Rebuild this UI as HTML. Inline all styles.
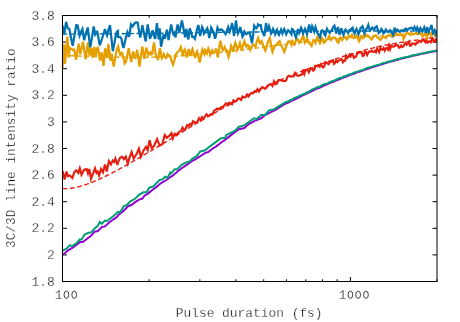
<!DOCTYPE html>
<html><head><meta charset="utf-8"><title>plot</title>
<style>html,body{margin:0;padding:0;background:#fff;width:460px;height:322px;overflow:hidden}</style></head>
<body>
<svg width="460" height="322" viewBox="0 0 460 322" style="position:absolute;left:0;top:0">
<rect width="460" height="322" fill="#fff"/>
<path d="M62.5,281.50h4.5 M437.0,281.50h-4.5 M62.5,254.90h4.5 M437.0,254.90h-4.5 M62.5,228.30h4.5 M437.0,228.30h-4.5 M62.5,201.70h4.5 M437.0,201.70h-4.5 M62.5,175.10h4.5 M437.0,175.10h-4.5 M62.5,148.50h4.5 M437.0,148.50h-4.5 M62.5,121.90h4.5 M437.0,121.90h-4.5 M62.5,95.30h4.5 M437.0,95.30h-4.5 M62.5,68.70h4.5 M437.0,68.70h-4.5 M62.5,42.10h4.5 M437.0,42.10h-4.5 M62.5,15.50h4.5 M437.0,15.50h-4.5 M62.50,281.5v-4.5 M62.50,15.5v4.5 M350.35,281.5v-4.5 M350.35,15.5v4.5 M149.15,281.5v-2.25 M149.15,15.5v2.25 M199.84,281.5v-2.25 M199.84,15.5v2.25 M235.80,281.5v-2.25 M235.80,15.5v2.25 M263.70,281.5v-2.25 M263.70,15.5v2.25 M286.49,281.5v-2.25 M286.49,15.5v2.25 M305.76,281.5v-2.25 M305.76,15.5v2.25 M322.45,281.5v-2.25 M322.45,15.5v2.25 M337.18,281.5v-2.25 M337.18,15.5v2.25 M437.00,281.5v-2.25 M437.00,15.5v2.25" stroke="#000" stroke-width="1" fill="none"/>
<clipPath id="c"><rect x="61.5" y="15.5" width="375.5" height="266.0"/></clipPath>
<g clip-path="url(#c)" fill="none" stroke-width="2" stroke-linejoin="miter" stroke-miterlimit="3.8" stroke-linecap="butt">
<path d="M62.6,255.1 L67.8,250.6 L73.0,247.3 L78.3,243.4 L80.2,242.1 L82.8,242.1 L86.1,239.5 L91.3,235.6 L94.6,231.7 L97.8,231.0 L101.7,227.1 L105.0,226.4 L108.3,223.2 L113.5,219.3 L117.4,216.7 L118.0,215.1 L123.2,211.2 L128.4,206.0 L131.0,205.3 L136.3,201.4 L139.5,199.4 L142.1,198.8 L144.7,195.5 L148.0,193.6 L152.6,189.7 L157.1,186.4 L161.0,183.1 L165.6,180.5 L170.2,177.3 L172.6,175.7 L177.8,171.2 L183.0,167.3 L187.0,164.7 L191.5,161.4 L196.1,158.8 L201.3,155.5 L205.2,152.9 L207.8,152.3 L213.0,148.3 L216.3,146.4 L219.6,143.8 L222.2,141.8 L226.0,139.1 L232.5,133.9 L239.0,129.3 L244.3,128.0 L248.8,124.1 L254.7,120.9 L261.2,118.3 L265.1,115.0 L270.3,112.4 L275.6,109.8 L280.8,106.5 L286.0,103.3 L288.0,102.7 L290.0,101.7 L292.0,100.7 L294.0,99.8 L296.0,98.8 L298.0,97.9 L300.0,96.8 L302.0,95.7 L304.0,94.8 L306.0,93.8 L308.0,92.8 L310.0,92.0 L312.0,91.1 L314.0,90.1 L316.0,89.2 L318.0,88.2 L320.0,87.5 L322.0,86.5 L324.0,85.6 L326.0,84.8 L328.0,83.9 L330.0,83.1 L332.0,82.2 L334.0,81.5 L336.0,80.6 L338.0,79.9 L340.0,79.0 L342.0,78.1 L344.0,77.4 L346.0,76.7 L348.0,75.9 L350.0,75.0 L352.0,74.4 L354.0,73.7 L356.0,72.8 L358.0,72.1 L360.0,71.5 L362.0,70.7 L364.0,70.1 L366.0,69.4 L368.0,68.7 L370.0,68.0 L372.0,67.4 L374.0,66.7 L376.0,66.1 L378.0,65.5 L380.0,64.9 L382.0,64.2 L384.0,63.6 L386.0,63.0 L388.0,62.4 L390.0,61.9 L392.0,61.3 L394.0,60.7 L396.0,60.2 L398.0,59.7 L400.0,59.1 L402.0,58.6 L404.0,58.1 L406.0,57.6 L408.0,57.1 L410.0,56.6 L412.0,56.1 L414.0,55.6 L416.0,55.2 L418.0,54.7 L420.0,54.3 L422.0,53.8 L424.0,53.4 L426.0,53.0 L428.0,52.6 L430.0,52.2 L432.0,51.8 L434.0,51.4 L437.0,50.8" stroke="#9400d3"/>
<path d="M62.6,250.6 L66.5,248.6 L69.8,245.3 L72.4,246.0 L77.0,242.7 L79.6,239.5 L81.5,239.5 L84.8,234.3 L88.0,233.0 L91.3,232.3 L94.6,228.4 L97.8,225.8 L99.8,221.9 L101.7,223.8 L105.0,220.6 L107.0,221.0 L110.9,218.0 L113.5,216.0 L118.0,211.8 L120.0,212.5 L123.9,206.0 L126.5,205.3 L130.4,201.4 L135.0,198.8 L138.9,194.9 L143.4,192.3 L146.7,192.3 L149.3,187.7 L153.2,186.4 L157.1,182.5 L159.7,179.9 L163.0,179.2 L165.0,176.6 L167.6,177.7 L170.0,173.1 L170.2,174.0 L172.0,172.5 L174.6,169.2 L177.2,169.2 L181.7,164.7 L185.7,162.7 L189.6,161.4 L192.2,158.8 L196.7,156.2 L200.0,151.6 L205.2,150.3 L209.1,147.0 L214.3,143.1 L219.6,139.2 L222.2,137.9 L225.4,137.7 L226.0,135.2 L231.2,132.6 L235.1,130.7 L239.0,126.7 L244.3,125.4 L249.5,121.5 L254.0,118.3 L256.7,118.9 L261.2,115.0 L265.1,115.0 L269.0,110.4 L274.3,109.1 L279.5,105.9 L286.0,102.0 L288.0,101.6 L290.0,100.3 L292.0,99.8 L294.0,98.1 L296.0,97.4 L298.0,96.7 L300.0,95.3 L302.0,94.7 L304.0,93.8 L306.0,92.9 L308.0,92.0 L310.0,90.8 L312.0,89.7 L314.0,88.8 L316.0,88.0 L318.0,86.9 L320.0,86.5 L322.0,85.2 L324.0,84.3 L326.0,84.1 L328.0,83.1 L330.0,81.9 L332.0,81.2 L334.0,80.7 L336.0,79.7 L338.0,78.7 L340.0,78.0 L342.0,77.5 L344.0,76.2 L346.0,76.0 L348.0,75.0 L350.0,74.1 L352.0,73.7 L354.0,72.6 L356.0,72.0 L358.0,71.4 L360.0,70.6 L362.0,70.2 L364.0,69.4 L366.0,68.5 L368.0,67.8 L370.0,67.1 L372.0,66.7 L374.0,65.9 L376.0,65.4 L378.0,64.9 L380.0,64.4 L382.0,63.4 L384.0,62.9 L386.0,62.4 L388.0,61.8 L390.0,61.2 L392.0,60.7 L394.0,60.3 L396.0,59.5 L398.0,59.0 L400.0,58.5 L402.0,57.9 L404.0,57.6 L406.0,57.0 L408.0,56.7 L410.0,56.2 L412.0,55.5 L414.0,55.1 L416.0,54.8 L418.0,54.3 L420.0,53.7 L422.0,53.4 L424.0,52.9 L426.0,52.6 L428.0,52.2 L430.0,51.8 L432.0,51.4 L434.0,51.1 L437.0,50.4" stroke="#009e73"/>
<path d="M62.5,188.5 L63.9,188.6 L65.4,188.6 L66.8,188.6 L68.3,188.5 L69.7,188.4 L71.2,188.2 L72.6,188.0 L74.1,187.8 L75.5,187.5 L77.0,187.2 L78.4,186.8 L79.9,186.4 L81.3,186.0 L82.7,185.6 L84.2,185.2 L85.6,184.7 L87.1,184.2 L88.5,183.6 L90.0,183.1 L91.4,182.5 L92.9,181.9 L94.3,181.3 L95.8,180.7 L97.2,180.1 L98.6,179.4 L100.1,178.8 L101.5,178.1 L103.0,177.4 L104.4,176.7 L105.9,176.0 L107.3,175.3 L108.8,174.6 L110.2,173.8 L111.7,173.1 L113.1,172.3 L114.6,171.6 L116.0,170.8 L117.4,170.0 L118.9,169.3 L120.3,168.5 L121.8,167.7 L123.2,166.9 L124.7,166.1 L126.1,165.3 L127.6,164.4 L129.0,163.6 L130.5,162.8 L131.9,162.0 L133.4,161.2 L134.8,160.3 L136.2,159.5 L137.7,158.6 L139.1,157.8 L140.6,157.0 L142.0,156.1 L143.5,155.3 L144.9,154.4 L146.4,153.5 L147.8,152.7 L149.3,151.8 L150.7,151.0 L152.1,150.1 L153.6,149.2 L155.0,148.4 L156.5,147.5 L157.9,146.6 L159.4,145.8 L160.8,144.9 L162.3,144.0 L163.7,143.2 L165.2,142.3 L166.6,141.4 L168.1,140.5 L169.5,139.7 L170.9,138.8 L172.4,137.9 L173.8,137.0 L175.3,136.2 L176.7,135.3 L178.2,134.4 L179.6,133.5 L181.1,132.7 L182.5,131.8 L184.0,130.9 L185.4,130.1 L186.9,129.2 L188.3,128.3 L189.7,127.5 L191.2,126.6 L192.6,125.7 L194.1,124.9 L195.5,124.0 L197.0,123.2 L198.4,122.3 L199.9,121.5 L201.3,120.6 L202.8,119.8 L204.2,118.9 L205.6,118.1 L207.1,117.2 L208.5,116.4 L210.0,115.6 L211.4,114.7 L212.9,113.9 L214.3,113.1 L215.8,112.3 L217.2,111.5 L218.7,110.6 L220.1,109.8 L221.6,109.0 L223.0,108.2 L224.4,107.4 L225.9,106.6 L227.3,105.8 L228.8,105.1 L230.2,104.3 L231.7,103.5 L233.1,102.7 L234.6,102.0 L236.0,101.2 L237.5,100.4 L238.9,99.7 L240.4,98.9 L241.8,98.2 L243.2,97.4 L244.7,96.7 L246.1,96.0 L247.6,95.3 L249.0,94.5 L250.5,93.8 L251.9,93.1 L253.4,92.4 L254.8,91.7 L256.3,91.0 L257.7,90.3 L259.1,89.6 L260.6,88.9 L262.0,88.2 L263.5,87.6 L264.9,86.9 L266.4,86.2 L267.8,85.6 L269.3,84.9 L270.7,84.3 L272.2,83.6 L273.6,83.0 L275.1,82.3 L276.5,81.7 L277.9,81.1 L279.4,80.4 L280.8,79.8 L282.3,79.2 L283.7,78.6 L285.2,78.0 L286.6,77.4 L288.1,76.7 L289.5,76.2 L291.0,75.6 L292.4,75.0 L293.9,74.4 L295.3,73.8 L296.7,73.2 L298.2,72.6 L299.6,72.1 L301.1,71.5 L302.5,70.9 L304.0,70.4 L305.4,69.8 L306.9,69.3 L308.3,68.7 L309.8,68.2 L311.2,67.6 L312.6,67.1 L314.1,66.5 L315.5,66.0 L317.0,65.5 L318.4,64.9 L319.9,64.4 L321.3,63.9 L322.8,63.4 L324.2,62.9 L325.7,62.3 L327.1,61.8 L328.6,61.3 L330.0,60.8 L331.4,60.3 L332.9,59.8 L334.3,59.4 L335.8,58.9 L337.2,58.4 L338.7,57.9 L340.1,57.4 L341.6,57.0 L343.0,56.5 L344.5,56.0 L345.9,55.6 L347.4,55.1 L348.8,54.7 L350.2,54.2 L351.7,53.8 L353.1,53.4 L354.6,52.9 L356.0,52.5 L357.5,52.1 L358.9,51.7 L360.4,51.3 L361.8,50.9 L363.3,50.5 L364.7,50.1 L366.1,49.7 L367.6,49.3 L369.0,48.9 L370.5,48.6 L371.9,48.2 L373.4,47.9 L374.8,47.5 L376.3,47.2 L377.7,46.8 L379.2,46.5 L380.6,46.2 L382.1,45.9 L383.5,45.6 L384.9,45.3 L386.4,45.0 L387.8,44.7 L389.3,44.4 L390.7,44.2 L392.2,43.9 L393.6,43.6 L395.1,43.4 L396.5,43.1 L398.0,42.9 L399.4,42.7 L400.9,42.4 L402.3,42.2 L403.7,42.0 L405.2,41.8 L406.6,41.6 L408.1,41.4 L409.5,41.1 L411.0,40.9 L412.4,40.7 L413.9,40.5 L415.3,40.3 L416.8,40.1 L418.2,39.9 L419.6,39.7 L421.1,39.5 L422.5,39.3 L424.0,39.1 L425.4,38.9 L426.9,38.6 L428.3,38.4 L429.8,38.1 L431.2,37.8 L432.7,37.5 L434.1,37.2 L435.6,36.9 L437.0,36.5" stroke="#e51e10" stroke-dasharray="4.8,2.6" stroke-width="1.4"/>
<path d="M62.6,170.9 L64.6,179.4 L66.5,171.6 L67.8,176.1 L69.8,175.5 L72.4,178.1 L74.3,172.2 L76.3,170.3 L78.3,172.9 L79.8,168.3 L81.5,174.8 L84.1,169.6 L86.7,169.0 L88.0,173.5 L89.3,169.0 L91.0,178.7 L93.3,172.9 L95.0,168.3 L96.5,172.9 L97.8,171.6 L99.1,175.5 L101.1,169.0 L103.0,172.2 L105.0,164.4 L106.7,171.6 L108.9,161.1 L110.9,164.4 L112.8,160.5 L114.1,161.8 L115.4,158.5 L117.4,165.0 L118.0,162.4 L120.0,157.9 L121.9,156.6 L123.9,159.2 L125.8,156.6 L127.8,163.7 L129.7,157.2 L131.7,152.0 L133.7,158.5 L136.3,154.6 L138.9,148.7 L140.8,156.6 L143.4,150.7 L146.0,146.8 L147.7,150.0 L149.6,140.3 L151.7,148.1 L153.9,146.1 L157.1,139.0 L159.5,145.5 L162.3,144.2 L164.7,135.0 L166.9,137.7 L169.5,135.7 L171.5,133.1 L172.8,138.3 L174.7,133.7 L176.4,135.0 L178.0,133.1 L179.5,131.6 L181.0,131.1 L182.5,127.6 L184.0,129.7 L185.5,129.2 L187.0,125.2 L188.5,126.0 L190.0,124.0 L191.5,125.0 L193.0,121.3 L194.5,122.4 L196.0,122.7 L197.5,121.6 L199.0,118.2 L200.5,120.4 L202.0,117.1 L203.5,118.6 L205.0,116.5 L206.5,114.3 L208.0,115.9 L209.5,115.4 L211.0,114.1 L212.5,114.4 L214.0,110.7 L215.5,109.8 L217.0,108.6 L218.5,109.5 L220.0,108.1 L221.5,107.1 L223.0,106.8 L224.5,105.2 L226.0,103.3 L227.5,104.5 L229.0,102.9 L230.5,102.9 L232.0,104.2 L233.5,100.3 L235.0,101.5 L236.5,100.8 L238.0,98.5 L239.5,98.6 L241.0,100.0 L242.5,96.6 L244.0,97.5 L245.5,97.3 L247.0,94.5 L248.5,96.5 L250.0,94.3 L251.5,93.0 L253.0,93.3 L254.5,91.3 L256.0,91.9 L257.5,89.3 L259.0,91.5 L260.5,89.2 L262.0,87.2 L263.5,87.4 L265.0,88.8 L266.5,87.7 L268.0,85.6 L269.5,84.4 L271.0,83.9 L272.5,86.0 L274.0,81.4 L275.5,84.4 L277.0,83.6 L278.5,80.0 L280.0,80.0 L281.5,80.5 L283.0,81.0 L284.5,81.1 L286.0,80.7 L287.5,76.7 L289.0,75.7 L290.5,76.6 L292.0,76.3 L293.5,76.3 L295.0,73.0 L296.5,75.1 L298.0,75.9 L299.5,75.4 L300.0,75.3 L301.1,74.8 L302.2,74.6 L303.3,69.6 L304.4,73.6 L305.5,69.9 L306.6,69.8 L307.7,70.1 L308.8,72.3 L309.9,70.1 L311.0,68.4 L312.1,68.1 L313.2,70.6 L314.3,69.8 L315.4,65.7 L316.5,66.0 L317.6,66.3 L318.7,65.1 L319.8,66.6 L320.9,64.4 L322.0,65.9 L323.1,67.5 L324.2,66.7 L325.3,62.2 L326.4,62.5 L327.5,63.3 L328.6,64.2 L329.7,62.4 L330.8,61.3 L331.9,61.5 L333.0,60.4 L334.1,63.8 L335.2,62.6 L336.3,60.5 L337.4,61.9 L338.5,60.5 L339.6,60.3 L340.7,59.0 L341.8,59.4 L342.9,62.2 L344.0,60.6 L345.1,60.6 L346.2,55.8 L347.3,57.9 L348.4,56.8 L349.5,54.8 L350.6,56.4 L351.7,54.3 L352.8,54.9 L353.9,57.7 L355.0,56.8 L356.1,56.5 L357.2,53.1 L358.3,53.2 L359.4,52.3 L360.5,52.4 L361.6,52.2 L362.7,56.0 L363.8,55.4 L364.9,51.8 L366.0,51.8 L367.1,54.9 L368.2,52.7 L369.3,51.5 L370.4,51.7 L371.5,50.5 L372.6,51.7 L373.7,52.1 L374.8,50.9 L375.9,52.1 L377.0,48.5 L378.1,50.5 L379.2,52.1 L380.3,48.0 L381.4,49.3 L382.5,49.7 L383.6,48.1 L384.7,50.7 L385.8,48.3 L386.9,48.0 L388.0,49.7 L389.1,45.5 L390.2,49.1 L391.3,45.5 L392.4,46.4 L393.5,46.7 L394.6,46.4 L395.7,44.3 L396.8,45.3 L397.9,45.3 L399.0,47.7 L400.1,47.3 L401.2,45.6 L402.3,46.9 L403.4,46.4 L404.5,44.1 L405.6,42.8 L406.7,44.7 L407.8,43.3 L408.9,41.8 L410.0,45.7 L411.1,45.5 L412.2,43.5 L413.3,43.6 L414.4,43.7 L415.5,44.6 L416.6,42.5 L417.7,42.8 L418.8,41.1 L419.9,41.0 L421.0,42.0 L422.1,40.6 L423.2,39.7 L424.3,40.9 L425.4,42.3 L426.5,40.2 L427.6,42.5 L428.7,41.7 L429.8,41.3 L430.9,42.2 L432.0,38.7 L433.1,39.0 L434.2,41.8 L435.3,41.7 L436.4,38.2 L437.0,41.0" stroke="#e51e10" stroke-width="2.15"/>
<path d="M62.5,55.4 L63.9,55.5 L65.4,55.5 L66.8,55.6 L68.3,55.6 L69.7,55.7 L71.2,55.7 L72.6,55.8 L74.1,55.8 L75.5,55.9 L77.0,55.9 L78.4,56.0 L79.9,56.1 L81.3,56.1 L82.7,56.2 L84.2,56.2 L85.6,56.3 L87.1,56.3 L88.5,56.4 L90.0,56.4 L91.4,56.5 L92.9,56.5 L94.3,56.6 L95.8,56.6 L97.2,56.7 L98.6,56.7 L100.1,56.8 L101.5,56.8 L103.0,56.8 L104.4,56.9 L105.9,56.9 L107.3,57.0 L108.8,57.0 L110.2,57.0 L111.7,57.1 L113.1,57.1 L114.6,57.1 L116.0,57.2 L117.4,57.2 L118.9,57.2 L120.3,57.2 L121.8,57.2 L123.2,57.3 L124.7,57.3 L126.1,57.3 L127.6,57.3 L129.0,57.3 L130.5,57.3 L131.9,57.3 L133.4,57.3 L134.8,57.3 L136.2,57.3 L137.7,57.3 L139.1,57.3 L140.6,57.3 L142.0,57.3 L143.5,57.3 L144.9,57.2 L146.4,57.2 L147.8,57.2 L149.3,57.2 L150.7,57.1 L152.1,57.1 L153.6,57.1 L155.0,57.0 L156.5,57.0 L157.9,56.9 L159.4,56.9 L160.8,56.8 L162.3,56.8 L163.7,56.7 L165.2,56.7 L166.6,56.6 L168.1,56.6 L169.5,56.5 L170.9,56.4 L172.4,56.3 L173.8,56.3 L175.3,56.2 L176.7,56.1 L178.2,56.0 L179.6,55.9 L181.1,55.8 L182.5,55.8 L184.0,55.7 L185.4,55.6 L186.9,55.5 L188.3,55.4 L189.7,55.3 L191.2,55.1 L192.6,55.0 L194.1,54.9 L195.5,54.8 L197.0,54.7 L198.4,54.6 L199.9,54.4 L201.3,54.3 L202.8,54.2 L204.2,54.0 L205.6,53.9 L207.1,53.8 L208.5,53.6 L210.0,53.5 L211.4,53.4 L212.9,53.2 L214.3,53.1 L215.8,52.9 L217.2,52.8 L218.7,52.6 L220.1,52.5 L221.6,52.3 L223.0,52.1 L224.4,52.0 L225.9,51.8 L227.3,51.7 L228.8,51.5 L230.2,51.3 L231.7,51.2 L233.1,51.0 L234.6,50.8 L236.0,50.6 L237.5,50.5 L238.9,50.3 L240.4,50.1 L241.8,49.9 L243.2,49.8 L244.7,49.6 L246.1,49.4 L247.6,49.2 L249.0,49.0 L250.5,48.8 L251.9,48.7 L253.4,48.5 L254.8,48.3 L256.3,48.1 L257.7,47.9 L259.1,47.7 L260.6,47.5 L262.0,47.4 L263.5,47.2 L264.9,47.0 L266.4,46.8 L267.8,46.6 L269.3,46.4 L270.7,46.2 L272.2,46.0 L273.6,45.9 L275.1,45.7 L276.5,45.5 L277.9,45.3 L279.4,45.1 L280.8,44.9 L282.3,44.7 L283.7,44.6 L285.2,44.4 L286.6,44.2 L288.1,44.0 L289.5,43.8 L291.0,43.6 L292.4,43.5 L293.9,43.3 L295.3,43.1 L296.7,42.9 L298.2,42.8 L299.6,42.6 L301.1,42.4 L302.5,42.2 L304.0,42.1 L305.4,41.9 L306.9,41.7 L308.3,41.6 L309.8,41.4 L311.2,41.3 L312.6,41.1 L314.1,40.9 L315.5,40.8 L317.0,40.6 L318.4,40.5 L319.9,40.3 L321.3,40.2 L322.8,40.0 L324.2,39.9 L325.7,39.8 L327.1,39.6 L328.6,39.5 L330.0,39.3 L331.4,39.2 L332.9,39.1 L334.3,39.0 L335.8,38.8 L337.2,38.7 L338.7,38.6 L340.1,38.5 L341.6,38.3 L343.0,38.2 L344.5,38.1 L345.9,38.0 L347.4,37.9 L348.8,37.8 L350.2,37.7 L351.7,37.6 L353.1,37.5 L354.6,37.4 L356.0,37.3 L357.5,37.2 L358.9,37.1 L360.4,37.0 L361.8,36.9 L363.3,36.9 L364.7,36.8 L366.1,36.7 L367.6,36.6 L369.0,36.5 L370.5,36.5 L371.9,36.4 L373.4,36.3 L374.8,36.2 L376.3,36.2 L377.7,36.1 L379.2,36.0 L380.6,36.0 L382.1,35.9 L383.5,35.9 L384.9,35.8 L386.4,35.7 L387.8,35.7 L389.3,35.6 L390.7,35.6 L392.2,35.5 L393.6,35.4 L395.1,35.4 L396.5,35.3 L398.0,35.3 L399.4,35.2 L400.9,35.2 L402.3,35.1 L403.7,35.0 L405.2,35.0 L406.6,34.9 L408.1,34.8 L409.5,34.8 L411.0,34.7 L412.4,34.7 L413.9,34.6 L415.3,34.5 L416.8,34.4 L418.2,34.4 L419.6,34.3 L421.1,34.2 L422.5,34.1 L424.0,34.0 L425.4,33.9 L426.9,33.8 L428.3,33.7 L429.8,33.6 L431.2,33.5 L432.7,33.4 L434.1,33.3 L435.6,33.2 L437.0,33.0" stroke="#e69f00" stroke-dasharray="4.8,2.6" stroke-width="1.4"/>
<path d="M62.5,68.0 L63.9,44.4 L65.0,64.0 L66.2,50.0 L67.4,36.6 L68.7,57.5 L69.7,47.9 L70.9,49.2 L72.0,48.8 L73.0,50.1 L74.3,49.7 L75.2,55.4 L76.1,59.7 L77.4,50.9 L78.7,43.6 L80.2,54.4 L81.6,48.2 L83.0,41.8 L84.3,50.5 L85.7,59.2 L86.7,51.6 L87.8,42.7 L88.7,49.0 L89.6,55.7 L90.4,51.1 L91.3,47.9 L92.6,57.5 L93.5,52.0 L94.3,47.0 L95.7,57.0 L97.0,48.3 L98.0,47.7 L99.0,53.3 L100.0,60.7 L100.9,56.1 L101.9,52.3 L103.5,66.0 L105.2,48.3 L106.2,53.5 L107.1,58.1 L108.4,43.8 L109.4,51.4 L110.4,60.7 L111.7,53.6 L112.7,61.1 L113.7,66.6 L115.0,59.2 L116.3,51.6 L117.2,48.6 L118.2,46.4 L119.2,51.3 L120.2,54.9 L121.2,53.2 L122.1,52.9 L123.4,57.8 L124.7,63.3 L125.7,61.9 L126.7,58.8 L127.7,53.0 L128.7,48.3 L130.0,55.7 L131.3,62.0 L132.2,56.0 L133.2,51.6 L134.2,55.3 L135.2,58.8 L136.2,54.5 L137.1,49.7 L138.3,57.5 L139.5,66.6 L140.9,56.2 L142.3,46.4 L143.3,52.7 L144.3,58.8 L145.3,53.4 L146.3,47.7 L147.2,50.6 L148.2,54.9 L149.2,53.4 L150.2,52.3 L151.1,54.6 L152.1,54.2 L153.1,47.9 L154.1,42.5 L155.0,50.1 L156.0,56.1 L157.0,57.2 L158.0,60.0 L158.9,54.0 L159.9,48.3 L160.9,53.2 L161.9,58.0 L162.8,56.4 L163.8,54.1 L164.8,56.7 L165.8,58.0 L166.8,56.9 L167.7,54.1 L169.0,55.7 L170.3,56.1 L171.7,61.2 L173.0,64.6 L174.3,60.8 L175.6,54.8 L176.9,52.7 L178.2,51.5 L179.5,50.2 L180.8,47.0 L181.8,50.9 L182.7,54.8 L183.7,51.5 L184.7,49.6 L185.7,52.6 L186.7,57.4 L187.6,53.9 L188.6,48.9 L189.6,52.9 L190.6,56.1 L191.5,51.3 L192.5,48.9 L193.8,53.7 L195.1,58.0 L196.1,53.5 L197.1,51.5 L198.4,56.8 L199.7,62.6 L201.0,56.3 L202.3,49.6 L203.3,52.3 L204.3,54.1 L205.0,49.8 L206.0,50.5 L207.0,53.0 L208.3,48.5 L209.2,50.5 L210.2,55.0 L211.2,52.9 L212.2,50.4 L213.2,52.3 L214.1,52.4 L215.1,51.3 L216.1,48.5 L217.8,57.6 L219.1,48.7 L220.4,40.7 L221.5,45.8 L222.6,50.4 L223.6,49.4 L224.6,47.2 L225.5,49.5 L226.5,49.8 L227.5,53.3 L228.5,57.0 L229.8,52.5 L231.1,45.9 L232.1,48.3 L233.0,51.7 L234.2,46.4 L235.3,42.7 L236.3,45.7 L237.3,49.8 L238.6,47.2 L239.9,43.3 L240.8,47.3 L241.8,49.2 L243.1,45.2 L244.4,41.3 L245.4,44.5 L246.4,46.6 L247.4,44.9 L248.3,45.3 L249.3,47.6 L250.3,49.8 L251.6,47.0 L252.9,44.6 L254.2,45.4 L255.5,46.6 L256.8,41.5 L258.1,38.1 L259.1,41.0 L260.1,43.3 L261.7,41.3 L263.5,46.4 L265.3,50.5 L266.7,46.3 L268.2,41.3 L269.9,38.1 L271.2,45.6 L272.5,51.8 L273.8,48.4 L275.1,45.3 L276.4,44.9 L277.7,42.7 L278.7,42.2 L279.7,41.3 L280.6,44.7 L281.6,45.9 L282.9,48.6 L284.2,51.8 L285.5,48.8 L286.8,44.6 L287.8,42.1 L288.8,41.3 L290.1,41.8 L291.4,44.6 L292.0,40.0 L293.3,43.5 L294.6,44.6 L295.6,41.3 L296.6,38.7 L297.9,39.4 L299.2,42.7 L300.2,41.6 L301.1,40.0 L302.1,38.6 L303.1,35.5 L304.1,39.6 L305.0,42.7 L306.0,41.3 L307.0,38.1 L308.0,41.2 L309.0,42.7 L310.3,44.2 L311.6,45.9 L312.5,42.4 L313.5,40.0 L314.5,40.5 L315.5,42.7 L316.5,39.3 L317.4,36.8 L318.7,40.3 L320.0,43.3 L321.0,41.5 L322.0,38.1 L323.0,39.4 L324.0,42.7 L325.3,41.7 L326.6,39.4 L327.9,38.3 L329.2,36.1 L330.2,38.5 L331.1,40.0 L332.4,38.0 L333.7,37.4 L335.0,37.8 L336.3,40.0 L337.3,41.8 L338.3,42.7 L339.3,40.3 L340.3,37.4 L341.2,38.5 L342.2,40.0 L343.2,38.1 L344.2,36.8 L345.5,37.2 L346.8,39.4 L347.8,38.4 L348.7,35.5 L350.0,36.8 L351.0,36.5 L352.0,34.8 L352.9,37.4 L353.9,38.1 L355.2,37.4 L356.5,35.5 L357.8,38.3 L359.1,41.3 L360.1,39.4 L361.1,36.1 L362.1,36.5 L363.0,38.1 L364.3,36.8 L365.7,34.8 L367.0,35.0 L368.3,36.1 L369.9,37.5 L371.5,39.4 L372.5,38.5 L373.5,36.1 L374.8,35.7 L376.1,35.5 L377.4,37.6 L378.7,38.1 L379.7,39.3 L380.7,40.0 L382.0,38.0 L383.3,36.8 L384.6,37.0 L385.9,38.1 L387.2,35.8 L388.5,35.5 L390.0,34.7 L391.1,35.9 L392.2,36.8 L393.3,36.1 L394.3,34.1 L395.4,33.3 L396.5,33.6 L397.6,34.1 L398.7,34.7 L399.8,35.1 L400.9,33.6 L402.5,35.2 L403.6,39.0 L405.2,35.2 L406.8,32.5 L407.9,33.1 L409.0,34.1 L410.1,34.4 L411.2,33.0 L412.3,34.2 L413.4,34.1 L414.7,33.6 L416.1,33.0 L417.2,33.8 L418.3,34.1 L419.3,32.4 L420.4,32.5 L421.5,34.4 L422.6,36.3 L423.7,35.4 L424.8,33.6 L425.9,34.9 L427.0,37.4 L428.6,31.9 L429.7,32.7 L430.8,35.2 L432.4,31.9 L433.5,32.6 L434.6,35.2 L436.0,33.4 L437.5,33.0" stroke="#e69f00" stroke-width="2.25"/>
<path d="M62.5,34.1 L63.9,34.1 L65.4,34.1 L66.8,34.1 L68.3,34.1 L69.7,34.1 L71.2,34.1 L72.6,34.1 L74.1,34.0 L75.5,34.0 L77.0,34.0 L78.4,34.0 L79.9,34.0 L81.3,34.0 L82.7,34.0 L84.2,34.0 L85.6,34.0 L87.1,34.0 L88.5,34.0 L90.0,33.9 L91.4,33.9 L92.9,33.9 L94.3,33.9 L95.8,33.9 L97.2,33.9 L98.6,33.9 L100.1,33.9 L101.5,33.9 L103.0,33.8 L104.4,33.8 L105.9,33.8 L107.3,33.8 L108.8,33.8 L110.2,33.8 L111.7,33.8 L113.1,33.8 L114.6,33.7 L116.0,33.7 L117.4,33.7 L118.9,33.7 L120.3,33.7 L121.8,33.7 L123.2,33.7 L124.7,33.6 L126.1,33.6 L127.6,33.6 L129.0,33.6 L130.5,33.6 L131.9,33.6 L133.4,33.6 L134.8,33.5 L136.2,33.5 L137.7,33.5 L139.1,33.5 L140.6,33.5 L142.0,33.5 L143.5,33.4 L144.9,33.4 L146.4,33.4 L147.8,33.4 L149.3,33.4 L150.7,33.4 L152.1,33.3 L153.6,33.3 L155.0,33.3 L156.5,33.3 L157.9,33.3 L159.4,33.3 L160.8,33.2 L162.3,33.2 L163.7,33.2 L165.2,33.2 L166.6,33.2 L168.1,33.1 L169.5,33.1 L170.9,33.1 L172.4,33.1 L173.8,33.1 L175.3,33.0 L176.7,33.0 L178.2,33.0 L179.6,33.0 L181.1,33.0 L182.5,33.0 L184.0,32.9 L185.4,32.9 L186.9,32.9 L188.3,32.9 L189.7,32.9 L191.2,32.8 L192.6,32.8 L194.1,32.8 L195.5,32.8 L197.0,32.8 L198.4,32.7 L199.9,32.7 L201.3,32.7 L202.8,32.7 L204.2,32.7 L205.6,32.6 L207.1,32.6 L208.5,32.6 L210.0,32.6 L211.4,32.6 L212.9,32.5 L214.3,32.5 L215.8,32.5 L217.2,32.5 L218.7,32.5 L220.1,32.4 L221.6,32.4 L223.0,32.4 L224.4,32.4 L225.9,32.4 L227.3,32.3 L228.8,32.3 L230.2,32.3 L231.7,32.3 L233.1,32.3 L234.6,32.3 L236.0,32.2 L237.5,32.2 L238.9,32.2 L240.4,32.2 L241.8,32.2 L243.2,32.1 L244.7,32.1 L246.1,32.1 L247.6,32.1 L249.0,32.1 L250.5,32.0 L251.9,32.0 L253.4,32.0 L254.8,32.0 L256.3,32.0 L257.7,32.0 L259.1,31.9 L260.6,31.9 L262.0,31.9 L263.5,31.9 L264.9,31.9 L266.4,31.8 L267.8,31.8 L269.3,31.8 L270.7,31.8 L272.2,31.8 L273.6,31.8 L275.1,31.7 L276.5,31.7 L277.9,31.7 L279.4,31.7 L280.8,31.7 L282.3,31.7 L283.7,31.6 L285.2,31.6 L286.6,31.6 L288.1,31.6 L289.5,31.6 L291.0,31.6 L292.4,31.5 L293.9,31.5 L295.3,31.5 L296.7,31.5 L298.2,31.5 L299.6,31.5 L301.1,31.5 L302.5,31.4 L304.0,31.4 L305.4,31.4 L306.9,31.4 L308.3,31.4 L309.8,31.4 L311.2,31.4 L312.6,31.3 L314.1,31.3 L315.5,31.3 L317.0,31.3 L318.4,31.3 L319.9,31.3 L321.3,31.3 L322.8,31.3 L324.2,31.2 L325.7,31.2 L327.1,31.2 L328.6,31.2 L330.0,31.2 L331.4,31.2 L332.9,31.2 L334.3,31.2 L335.8,31.2 L337.2,31.2 L338.7,31.1 L340.1,31.1 L341.6,31.1 L343.0,31.1 L344.5,31.1 L345.9,31.1 L347.4,31.1 L348.8,31.1 L350.2,31.1 L351.7,31.1 L353.1,31.1 L354.6,31.1 L356.0,31.0 L357.5,31.0 L358.9,31.0 L360.4,31.0 L361.8,31.0 L363.3,31.0 L364.7,31.0 L366.1,31.0 L367.6,31.0 L369.0,31.0 L370.5,31.0 L371.9,31.0 L373.4,31.0 L374.8,31.0 L376.3,31.0 L377.7,31.0 L379.2,31.0 L380.6,31.0 L382.1,31.0 L383.5,31.0 L384.9,31.0 L386.4,31.0 L387.8,31.0 L389.3,31.0 L390.7,31.0 L392.2,31.0 L393.6,31.0 L395.1,31.0 L396.5,31.0 L398.0,31.0 L399.4,31.0 L400.9,31.0 L402.3,31.0 L403.7,31.0 L405.2,31.0 L406.6,31.0 L408.1,31.0 L409.5,31.0 L411.0,31.0 L412.4,31.0 L413.9,31.1 L415.3,31.1 L416.8,31.1 L418.2,31.1 L419.6,31.1 L421.1,31.1 L422.5,31.1 L424.0,31.1 L425.4,31.1 L426.9,31.1 L428.3,31.1 L429.8,31.1 L431.2,31.2 L432.7,31.2 L434.1,31.2 L435.6,31.2 L437.0,31.2" stroke="#0072b2" stroke-dasharray="4.8,2.6" stroke-width="1.4"/>
<path d="M62.6,25.8 L64.3,34.3 L65.2,27.5 L66.1,21.9 L67.8,28.4 L69.4,29.0 L71.0,38.0 L72.7,45.7 L74.5,35.4 L76.3,25.1 L77.6,25.4 L78.6,30.5 L79.6,35.6 L81.0,31.9 L82.4,29.0 L84.1,40.1 L85.9,33.4 L87.7,27.5 L89.0,37.5 L90.3,47.3 L92.0,37.4 L93.7,26.4 L95.2,34.3 L96.2,32.3 L97.2,31.7 L98.5,38.4 L99.8,45.3 L102.4,37.5 L105.0,29.0 L106.0,33.2 L107.0,35.6 L108.5,29.9 L110.0,25.1 L111.4,38.0 L112.8,51.2 L114.5,42.6 L116.1,33.6 L117.0,31.6 L118.0,31.0 L118.0,36.9 L119.0,37.1 L120.0,36.9 L121.3,38.2 L122.4,44.0 L123.5,48.0 L125.4,39.7 L127.4,32.3 L129.1,36.9 L130.1,30.6 L131.0,24.5 L132.6,26.4 L134.3,23.8 L135.9,22.4 L137.6,22.5 L138.9,30.1 L140.2,37.5 L141.3,32.3 L142.4,25.1 L144.0,33.4 L145.7,41.4 L146.7,32.4 L147.7,24.5 L148.8,31.3 L150.0,38.8 L151.3,34.9 L152.6,30.3 L153.9,35.6 L155.2,38.8 L156.9,23.2 L157.8,31.2 L158.7,39.5 L159.7,28.4 L161.0,46.7 L162.3,40.4 L163.7,34.3 L164.7,38.8 L165.8,35.1 L166.9,29.7 L168.6,40.1 L169.9,31.2 L171.2,24.5 L172.3,30.6 L173.4,34.3 L174.3,33.0 L175.6,37.5 L176.0,32.9 L177.6,24.4 L179.3,32.9 L180.6,26.6 L181.9,20.5 L183.5,28.5 L185.1,37.4 L186.4,29.0 L187.4,35.0 L188.4,39.4 L189.7,28.3 L191.0,31.9 L192.3,36.8 L193.6,36.8 L194.9,38.7 L196.2,32.9 L197.3,28.3 L198.4,25.0 L200.1,36.1 L201.1,32.0 L202.1,27.0 L203.1,29.1 L204.0,33.5 L205.7,30.8 L207.3,28.3 L208.3,32.5 L209.3,38.1 L210.2,33.0 L211.2,27.7 L212.5,30.3 L213.8,33.5 L215.1,38.7 L216.3,34.0 L217.5,27.7 L218.6,30.1 L219.7,30.3 L220.7,29.4 L221.7,29.6 L223.6,31.5 L225.6,34.2 L226.9,30.9 L228.2,27.0 L229.7,31.6 L230.9,28.0 L232.1,23.1 L233.0,28.0 L234.0,35.5 L234.0,36.1 L235.0,28.8 L236.0,20.5 L236.9,27.9 L237.9,33.5 L239.1,31.1 L240.3,27.0 L241.4,31.7 L242.5,36.8 L243.5,35.1 L244.4,31.6 L245.4,33.0 L246.4,34.2 L248.0,32.6 L249.7,32.9 L250.8,37.5 L252.0,43.3 L253.1,34.8 L254.2,25.7 L255.2,27.1 L256.2,28.3 L257.2,27.2 L258.1,24.4 L259.4,25.3 L260.7,25.0 L262.0,31.6 L263.2,33.0 L264.3,36.1 L266.0,23.1 L267.7,31.6 L269.0,26.3 L270.1,29.6 L271.2,33.5 L272.2,32.0 L273.1,29.0 L274.1,31.4 L275.1,34.2 L276.1,31.1 L277.0,29.6 L278.0,33.4 L279.0,34.8 L280.0,32.1 L281.0,29.6 L282.5,33.5 L284.2,29.0 L285.2,31.0 L286.2,34.2 L287.1,32.2 L288.1,30.3 L289.8,31.7 L291.4,34.2 L292.0,29.0 L293.0,29.6 L294.0,31.6 L294.9,35.0 L295.9,37.4 L296.9,34.0 L297.9,29.0 L299.2,32.9 L300.2,30.1 L301.1,27.7 L302.1,29.9 L303.1,33.5 L304.1,31.2 L305.0,29.0 L306.0,31.4 L307.0,34.2 L308.1,29.2 L309.2,24.4 L310.9,32.9 L312.2,26.3 L313.2,28.4 L314.2,31.6 L315.5,27.0 L316.5,30.5 L317.4,32.9 L318.7,34.6 L320.0,37.4 L321.3,30.9 L322.3,30.3 L323.3,31.6 L324.3,33.9 L325.3,35.5 L327.0,29.0 L328.4,31.4 L329.8,32.9 L330.8,31.0 L331.8,30.3 L333.1,27.3 L334.4,25.7 L335.4,29.8 L336.3,33.5 L337.9,27.0 L339.6,34.8 L341.3,28.3 L342.4,32.4 L343.5,34.8 L344.5,31.7 L345.5,29.6 L346.8,31.3 L348.1,32.9 L349.4,30.3 L350.0,30.9 L351.3,28.8 L352.6,27.7 L353.6,31.1 L354.6,33.5 L355.5,31.2 L356.5,29.0 L357.5,31.3 L358.5,34.2 L359.5,31.6 L360.4,28.3 L361.4,27.4 L362.4,26.3 L363.4,29.3 L364.3,33.5 L365.3,31.1 L366.3,29.0 L367.3,27.9 L368.3,25.0 L369.2,28.3 L370.2,30.3 L371.2,29.0 L372.2,27.7 L373.2,29.0 L374.1,29.6 L375.4,27.3 L376.7,26.3 L377.7,29.4 L378.7,32.9 L380.0,31.7 L381.3,29.0 L382.3,30.6 L383.3,33.5 L384.6,32.5 L385.9,29.6 L387.2,31.6 L388.5,32.2 L390.0,30.3 L391.6,32.5 L393.3,35.2 L394.6,27.6 L396.0,31.4 L397.6,29.8 L398.7,31.2 L399.8,31.9 L401.4,30.3 L402.5,30.6 L403.6,31.4 L404.7,29.2 L405.8,28.7 L407.4,30.3 L408.5,28.8 L409.6,28.1 L410.7,28.3 L411.7,27.6 L413.4,29.2 L414.5,27.0 L416.1,30.3 L417.2,27.6 L418.8,31.9 L420.4,28.1 L421.5,29.6 L422.6,31.4 L424.2,27.6 L425.9,33.0 L427.0,27.0 L428.6,31.9 L429.7,29.2 L430.6,27.6 L431.5,24.9 L432.9,33.0 L434.6,30.3 L435.7,34.1 L436.6,31.6 L437.5,30.3" stroke="#0072b2" stroke-width="2.25"/>
</g>
<rect x="62.5" y="15.5" width="374.5" height="266.0" fill="none" stroke="#000" stroke-width="1"/>
<g font-family="Liberation Mono, monospace" font-size="13" fill="#000" stroke="#fff" stroke-width="0.3" style="opacity:0.999">
<text transform="translate(54.90,285.60) scale(1,0.93)" text-anchor="end">1.8</text>
<text transform="translate(54.90,259.00) scale(1,0.93)" text-anchor="end">2</text>
<text transform="translate(54.90,232.40) scale(1,0.93)" text-anchor="end">2.2</text>
<text transform="translate(54.90,205.80) scale(1,0.93)" text-anchor="end">2.4</text>
<text transform="translate(54.90,179.20) scale(1,0.93)" text-anchor="end">2.6</text>
<text transform="translate(54.90,152.60) scale(1,0.93)" text-anchor="end">2.8</text>
<text transform="translate(54.90,126.00) scale(1,0.93)" text-anchor="end">3</text>
<text transform="translate(54.90,99.40) scale(1,0.93)" text-anchor="end">3.2</text>
<text transform="translate(54.90,72.80) scale(1,0.93)" text-anchor="end">3.4</text>
<text transform="translate(54.90,46.20) scale(1,0.93)" text-anchor="end">3.6</text>
<text transform="translate(54.90,19.60) scale(1,0.93)" text-anchor="end">3.8</text>
<text transform="translate(54.70,298.70) scale(1,0.93)" text-anchor="start">1</text>
<ellipse cx="66.40" cy="294.75" rx="2.35" ry="3.65" fill="none" stroke="#000" stroke-width="0.75"/>
<ellipse cx="74.20" cy="294.75" rx="2.35" ry="3.65" fill="none" stroke="#000" stroke-width="0.75"/>
<text transform="translate(338.65,298.70) scale(1,0.93)" text-anchor="start">1</text>
<ellipse cx="350.35" cy="294.75" rx="2.35" ry="3.65" fill="none" stroke="#000" stroke-width="0.75"/>
<ellipse cx="358.15" cy="294.75" rx="2.35" ry="3.65" fill="none" stroke="#000" stroke-width="0.75"/>
<ellipse cx="365.95" cy="294.75" rx="2.35" ry="3.65" fill="none" stroke="#000" stroke-width="0.75"/>
<text transform="translate(249.15,317.40) scale(1,0.93)" text-anchor="middle" font-size="12.9">Pulse duration (fs)</text>
<text transform="translate(15.00,148.20) rotate(-90) scale(1,0.93)" text-anchor="middle" font-size="12.8">3C/3D line intensity ratio</text>
</g></svg>
</body></html>
